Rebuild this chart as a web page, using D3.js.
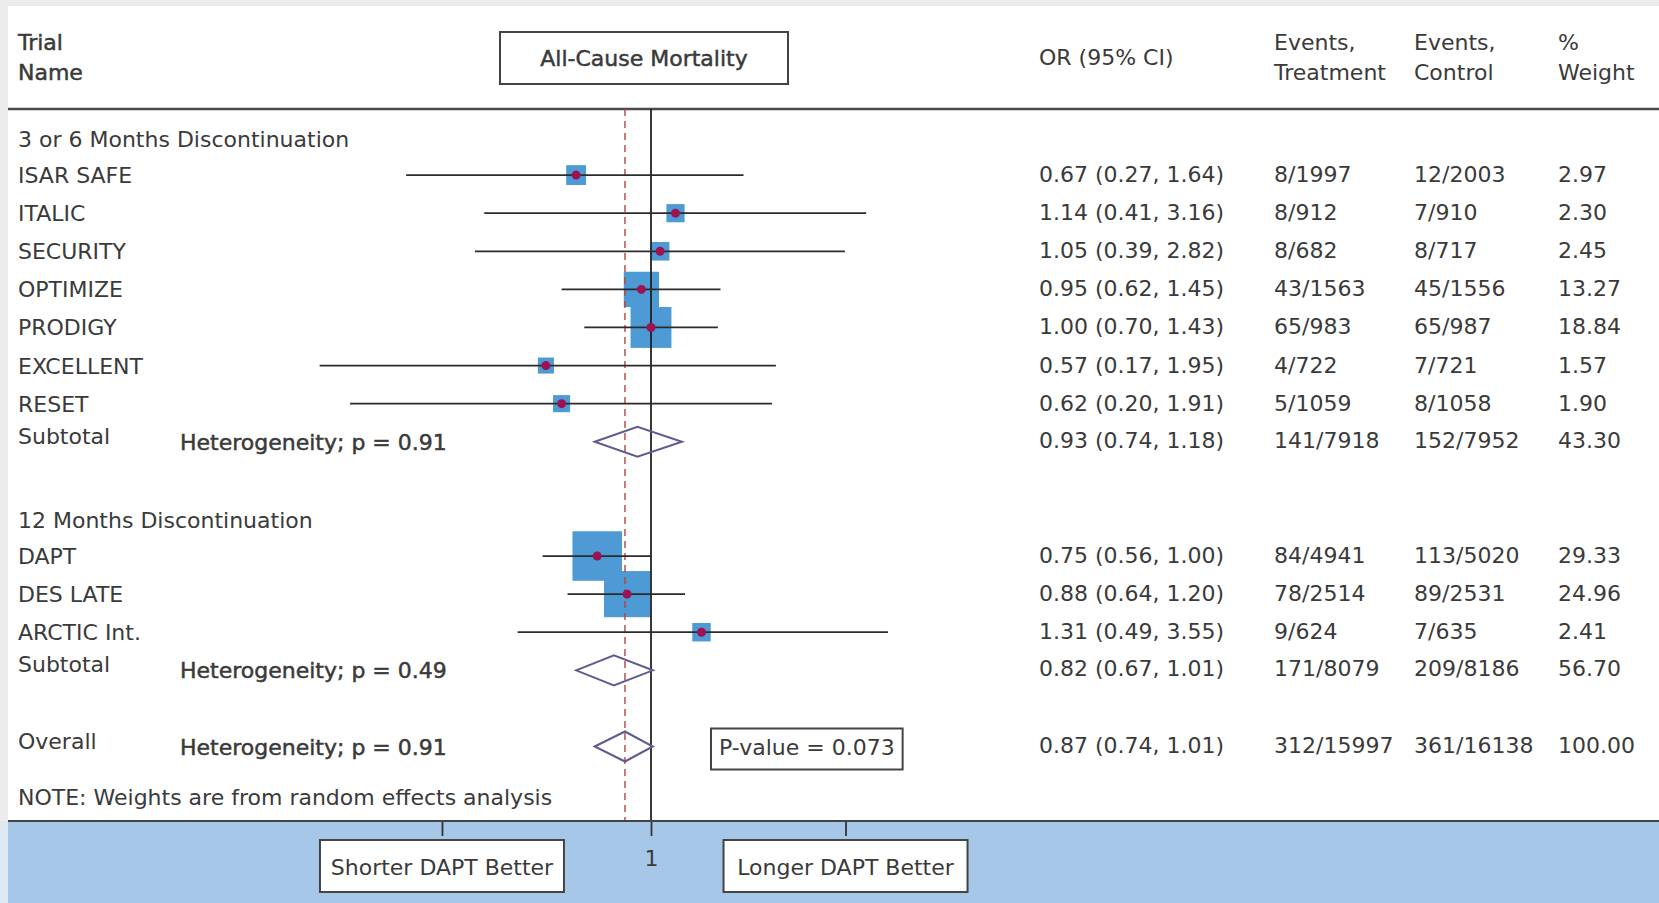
<!DOCTYPE html>
<html>
<head>
<meta charset="utf-8">
<script src="https://cdn.jsdelivr.net/npm/d3@7"></script>
<style>
  body { margin: 0; background: #fff; }
  svg text { font-family: "DejaVu Sans", sans-serif; font-size: 22px; fill: #3a3a3a; }
  svg text.semi { stroke: #3a3a3a; stroke-width: 0.5px; }
</style>
</head>
<body>
<div id="chart"></div>
<script>
// ---- data ----
var groupTitles = ["3 or 6 Months Discontinuation", "12 Months Discontinuation"];
var trialNames = ["ISAR SAFE", "ITALIC", "SECURITY", "OPTIMIZE", "PRODIGY", "EXCELLENT", "RESET", "DAPT", "DES LATE", "ARCTIC Int."];
var trialGroup = [0, 0, 0, 0, 0, 0, 0, 1, 1, 1];
var orValues = [0.67, 1.14, 1.05, 0.95, 1.00, 0.57, 0.62, 0.75, 0.88, 1.31];
var ciLower = [0.27, 0.41, 0.39, 0.62, 0.70, 0.17, 0.20, 0.56, 0.64, 0.49];
var ciUpper = [1.64, 3.16, 2.82, 1.45, 1.43, 1.95, 1.91, 1.00, 1.20, 3.55];
var eventsTreatment = ["8/1997", "8/912", "8/682", "43/1563", "65/983", "4/722", "5/1059", "84/4941", "78/2514", "9/624"];
var eventsControl = ["12/2003", "7/910", "8/717", "45/1556", "65/987", "7/721", "8/1058", "113/5020", "89/2531", "7/635"];
var weights = [2.97, 2.30, 2.45, 13.27, 18.84, 1.57, 1.90, 29.33, 24.96, 2.41];

var pooledLabels = ["Subtotal", "Subtotal", "Overall"];
var pooledOR = [0.93, 0.82, 0.87];
var pooledLower = [0.74, 0.67, 0.74];
var pooledUpper = [1.18, 1.01, 1.01];
var pooledEventsT = ["141/7918", "171/8079", "312/15997"];
var pooledEventsC = ["152/7952", "209/8186", "361/16138"];
var pooledWeight = [43.30, 56.70, 100.00];
var heterogeneityP = ["0.91", "0.49", "0.91"];
var overallP = "0.073";

var axisTicks = [0.327, 1, 2.83];
var directionLabels = ["Shorter DAPT Better", "Longer DAPT Better"];

// ---- layout ----
var width = 1659, height = 903;
var headerY = 109, bottomY = 821;
var col = {name: 18, het: 180, or: 1039, evT: 1274, evC: 1414, wt: 1558};

var svg = d3.select("#chart").append("svg")
	.attr("width", width)
	.attr("height", height);

// page furniture
svg.append("rect").attr("x", 0).attr("y", 0).attr("width", width).attr("height", 6).attr("fill", "#ebebeb");
svg.append("rect").attr("x", 8).attr("y", bottomY).attr("width", width - 8).attr("height", height - bottomY).attr("fill", "#a7c7e8");
svg.append("rect").attr("x", 0).attr("y", 0).attr("width", 8).attr("height", bottomY).attr("fill", "#ececec");
svg.append("rect").attr("x", 0).attr("y", bottomY).attr("width", 8).attr("height", height - bottomY).attr("fill", "#dde8f2");

// scales
var x = d3.scaleLog()
	.domain([0.1, 10])
	.range([651 - 187 * Math.LN10, 651 + 187 * Math.LN10]);

var y = d3.scaleLinear()
	.domain([0, 16])
	.range([137, 746.5]);

var size = d3.scaleSqrt()
	.domain([0, 30])
	.range([6, 50]);

// build the row list: title, trials, subtotal, gap, ...
var trials = [], pooled = [], titles = [];
var r = 0;
groupTitles.forEach(function(t, g) {
	titles.push({text: t, row: r});
	r++;
	trialNames.forEach(function(n, i) {
		if (trialGroup[i] !== g) return;
		trials.push({name: n, or: orValues[i], lo: ciLower[i], hi: ciUpper[i],
			evT: eventsTreatment[i], evC: eventsControl[i], w: weights[i], row: r});
		r++;
	});
	pooled.push({i: g, row: r});
	r += 2;
});
pooled.push({i: 2, row: r});

function orText(o, l, h) {
	return o.toFixed(2) + " (" + l.toFixed(2) + ", " + h.toFixed(2) + ")";
}

// header
svg.append("text").attr("class", "semi").attr("x", col.name).attr("y", 50).text("Trial");
svg.append("text").attr("class", "semi").attr("x", col.name).attr("y", 80).text("Name");

svg.append("rect")
	.attr("x", 500).attr("y", 32).attr("width", 288).attr("height", 52)
	.attr("fill", "#fff").attr("stroke", "#444").attr("stroke-width", 2);
svg.append("text").attr("class", "semi").attr("x", 644).attr("y", 66)
	.attr("text-anchor", "middle").text("All-Cause Mortality");

svg.append("text").attr("x", col.or).attr("y", 65).text("OR (95% CI)");
svg.append("text").attr("x", col.evT).attr("y", 50).text("Events,");
svg.append("text").attr("x", col.evT).attr("y", 80).text("Treatment");
svg.append("text").attr("x", col.evC).attr("y", 50).text("Events,");
svg.append("text").attr("x", col.evC).attr("y", 80).text("Control");
svg.append("text").attr("x", col.wt).attr("y", 50).text("%");
svg.append("text").attr("x", col.wt).attr("y", 80).text("Weight");

svg.append("line")
	.attr("x1", 8).attr("x2", width).attr("y1", headerY).attr("y2", headerY)
	.attr("stroke", "#4a4a4a").attr("stroke-width", 2.5);

// weight squares (under everything else)
svg.append("g").selectAll("rect")
	.data(trials)
	.join("rect")
	.attr("x", function(d) { return x(d.or) - size(d.w) / 2; })
	.attr("y", function(d) { return y(d.row) - size(d.w) / 2; })
	.attr("width", function(d) { return size(d.w); })
	.attr("height", function(d) { return size(d.w); })
	.attr("fill", "#4d9ad4");

// reference lines
svg.append("line")
	.attr("x1", x(pooledOR[2])).attr("x2", x(pooledOR[2]))
	.attr("y1", headerY).attr("y2", bottomY)
	.attr("stroke", "#b8443a").attr("stroke-width", 1.4)
	.attr("stroke-dasharray", "7,5");

svg.append("line")
	.attr("x1", x(1)).attr("x2", x(1))
	.attr("y1", headerY).attr("y2", bottomY)
	.attr("stroke", "#222").attr("stroke-width", 1.8);

// confidence intervals
svg.append("g").selectAll("line")
	.data(trials)
	.join("line")
	.attr("x1", function(d) { return x(d.lo); })
	.attr("x2", function(d) { return x(d.hi); })
	.attr("y1", function(d) { return y(d.row); })
	.attr("y2", function(d) { return y(d.row); })
	.attr("stroke", "#2b2b2b").attr("stroke-width", 1.8);

svg.append("g").selectAll("circle")
	.data(trials)
	.join("circle")
	.attr("cx", function(d) { return x(d.or); })
	.attr("cy", function(d) { return y(d.row); })
	.attr("r", 4.5)
	.attr("fill", "#9c1252");

// pooled diamonds
svg.append("g").selectAll("path")
	.data(pooled)
	.join("path")
	.attr("d", function(d) {
		var cy = y(d.row), h = 15;
		return "M" + x(pooledLower[d.i]) + "," + cy +
			"L" + x(pooledOR[d.i]) + "," + (cy - h) +
			"L" + x(pooledUpper[d.i]) + "," + cy +
			"L" + x(pooledOR[d.i]) + "," + (cy + h) + "Z";
	})
	.attr("fill", "none")
	.attr("stroke", "#5f5b8e")
	.attr("stroke-width", 2);

// row text
var labels = svg.append("g");

titles.forEach(function(t) {
	labels.append("text").attr("x", col.name).attr("y", y(t.row) + 10).text(t.text);
});

trials.forEach(function(d) {
	var by = y(d.row) + 8;
	labels.append("text").attr("x", col.name).attr("y", by).text(d.name);
	labels.append("text").attr("x", col.or).attr("y", by - 1).text(orText(d.or, d.lo, d.hi));
	labels.append("text").attr("x", col.evT).attr("y", by - 1).text(d.evT);
	labels.append("text").attr("x", col.evC).attr("y", by - 1).text(d.evC);
	labels.append("text").attr("x", col.wt).attr("y", by - 1).text(d.w.toFixed(2));
});

pooled.forEach(function(d) {
	var cy = y(d.row);
	labels.append("text").attr("x", col.name).attr("y", cy + 2).text(pooledLabels[d.i]);
	labels.append("text").attr("class", "semi").attr("x", col.het).attr("y", cy + 8)
		.text("Heterogeneity; p = " + heterogeneityP[d.i]);
	labels.append("text").attr("x", col.or).attr("y", cy + 6)
		.text(orText(pooledOR[d.i], pooledLower[d.i], pooledUpper[d.i]));
	labels.append("text").attr("x", col.evT).attr("y", cy + 6).text(pooledEventsT[d.i]);
	labels.append("text").attr("x", col.evC).attr("y", cy + 6).text(pooledEventsC[d.i]);
	labels.append("text").attr("x", col.wt).attr("y", cy + 6).text(pooledWeight[d.i].toFixed(2));
});

// overall p-value box
var overallY = y(pooled[2].row);
var pText = labels.append("text").attr("x", 719).attr("y", overallY + 8).text("P-value = " + overallP);
var pb = pText.node().getBBox();
labels.insert("rect", "text")
	.attr("x", pb.x - 8).attr("y", overallY - 18)
	.attr("width", pb.width + 16).attr("height", 41)
	.attr("fill", "#fff").attr("stroke", "#444").attr("stroke-width", 2);

labels.append("text").attr("x", col.name).attr("y", 805)
	.text("NOTE: Weights are from random effects analysis");

// bottom axis
var xAxis = d3.axisBottom(x)
	.tickValues(axisTicks)
	.tickSize(15)
	.tickPadding(14)
	.tickFormat(function(d) { return d === 1 ? "1" : ""; });

var ax = svg.append("g")
	.attr("transform", "translate(0," + bottomY + ")")
	.call(xAxis);
ax.select(".domain").remove();
ax.selectAll(".tick line").attr("stroke", "#333").attr("stroke-width", 1.8);
ax.selectAll(".tick text").style("font-family", "DejaVu Sans, sans-serif").style("font-size", "22px").attr("fill", "#555");

svg.append("line")
	.attr("x1", 8).attr("x2", width).attr("y1", bottomY).attr("y2", bottomY)
	.attr("stroke", "#444").attr("stroke-width", 2);

// direction boxes hang off the outer ticks
var dirs = [axisTicks[0], axisTicks[2]];
dirs.forEach(function(v, i) {
	var cx = x(v);
	svg.append("rect")
		.attr("x", cx - 122).attr("y", 840).attr("width", 244).attr("height", 52)
		.attr("fill", "#fff").attr("stroke", "#444").attr("stroke-width", 2);
	svg.append("text").attr("x", cx).attr("y", 875)
		.attr("text-anchor", "middle").text(directionLabels[i]);
});
</script>
</body>
</html>
